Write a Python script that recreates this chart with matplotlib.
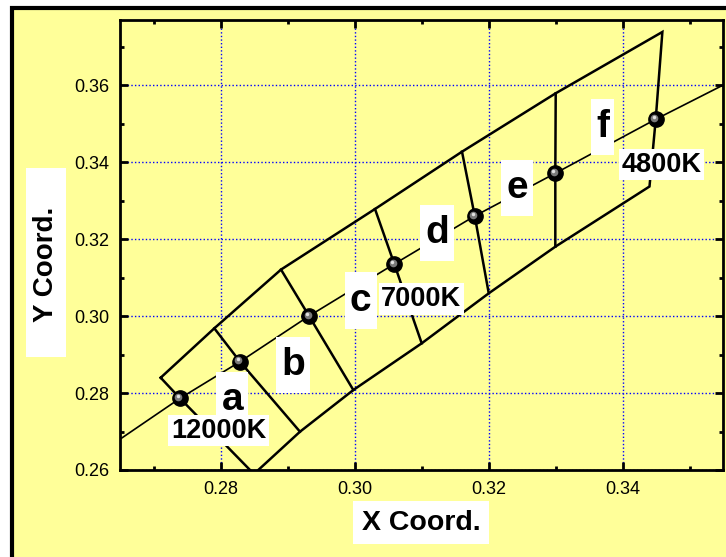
import matplotlib
matplotlib.use("Agg")
import matplotlib.pyplot as plt
from matplotlib.patches import Rectangle
from matplotlib.transforms import offset_copy
from matplotlib.ticker import MultipleLocator, FormatStrFormatter

plt.rcParams['font.family'] = ['Liberation Sans', 'DejaVu Sans']

# ---- data (CIE x, y) ----
locus_x = [0.2650, 0.27395, 0.28290, 0.29320, 0.30592, 0.31792, 0.32994, 0.34492, 0.3550]
locus_y = [0.2680, 0.27864, 0.28816, 0.30004, 0.31356, 0.32604, 0.33715, 0.35119, 0.3601]

point_x = [0.27395, 0.28290, 0.29320, 0.30592, 0.31792, 0.32994, 0.34492]
point_y = [0.27864, 0.28816, 0.30004, 0.31356, 0.32604, 0.33715, 0.35119]

upper_x = [0.27107, 0.27907, 0.28902, 0.30304, 0.31602, 0.33000, 0.34591]
upper_y = [0.28400, 0.29684, 0.31211, 0.32786, 0.34276, 0.35795, 0.37389]

lower_x = [0.28498, 0.29185, 0.29981, 0.31001, 0.32001, 0.32994, 0.34399]
lower_y = [0.25896, 0.26996, 0.28080, 0.29294, 0.30594, 0.31806, 0.33371]

bin_labels = ['a', 'b', 'c', 'd', 'e', 'f']
bin_label_x = [0.28174, 0.29085, 0.30092, 0.31226, 0.32420, 0.33703]
bin_label_y = [0.27828, 0.28722, 0.30405, 0.32155, 0.33325, 0.34913]

cct_labels = ['12000K', '7000K', '4800K']
cct_label_x = [0.27974, 0.30995, 0.34581]
cct_label_y = [0.27027, 0.30447, 0.33943]

x_ticks = [0.28, 0.30, 0.32, 0.34]
y_ticks = [0.26, 0.28, 0.30, 0.32, 0.34, 0.36]

YELLOW = '#FFFF99'
W, H = 726, 557
fig = plt.figure(figsize=(W / 100, H / 100), dpi=100, facecolor='white')

# outer yellow frame with black border
fig.patches.append(Rectangle((12 / W, -0.1), 1.2, 1.1 - 8 / H,
                             transform=fig.transFigure, facecolor=YELLOW,
                             edgecolor='black', linewidth=3.0, zorder=-5))

ax = fig.add_axes([120 / W, (H - 470) / H, 603.3 / W, 450 / H])
ax.set_facecolor(YELLOW)
ax.set_xlim(0.265, 0.355)
ax.set_ylim(0.26, 0.377)

ax.set_xticks(x_ticks)
ax.set_yticks(y_ticks)
ax.xaxis.set_minor_locator(MultipleLocator(0.01))
ax.yaxis.set_minor_locator(MultipleLocator(0.01))
ax.xaxis.set_major_formatter(FormatStrFormatter('%.2f'))
ax.yaxis.set_major_formatter(FormatStrFormatter('%.2f'))
ax.tick_params(which='both', direction='in', top=True, right=True, width=2.0)
ax.tick_params(which='major', length=6, labelsize=13, pad=8)
ax.tick_params(which='minor', length=3)
for s in ax.spines.values():
    s.set_linewidth(2.0)
ax.grid(True, which='major', color='#0000FF', linestyle=(0, (1, 1.6)), linewidth=1.0)
ax.set_axisbelow(True)

# outline of the bins
outline_x = upper_x + [point_x[-1]] + lower_x[::-1] + [point_x[0], upper_x[0]]
outline_y = upper_y + [point_y[-1]] + lower_y[::-1] + [point_y[0], upper_y[0]]
ax.plot(outline_x, outline_y, color='black', lw=1.8, solid_joinstyle='miter', zorder=3)

# dividers between bins
for i in range(1, 6):
    ax.plot([upper_x[i], point_x[i], lower_x[i]],
            [upper_y[i], point_y[i], lower_y[i]], color='black', lw=1.8, zorder=3)

# Planckian locus
ax.plot(locus_x, locus_y, color='black', lw=1.2, zorder=3)

# sphere-like points
ax.plot(point_x, point_y, 'o', color='black', ms=11, zorder=5)
t1 = offset_copy(ax.transData, fig=fig, x=-1.5, y=1.5, units='dots')
ax.plot(point_x, point_y, 'o', color='#7a7a7a', ms=5.5, mew=0, transform=t1, zorder=6)
t2 = offset_copy(ax.transData, fig=fig, x=-2.2, y=2.2, units='dots')
ax.plot(point_x, point_y, 'o', color='#e0e0e0', ms=2.5, mew=0, transform=t2, zorder=7)

# bin letters
for lab, lx, ly in zip(bin_labels, bin_label_x, bin_label_y):
    ax.text(lx, ly, lab, fontsize=28, fontweight='bold', ha='center', va='center',
            zorder=8,
            bbox=dict(boxstyle='square,pad=0.13', fc='white', ec='none',
                      mutation_aspect=2.0))

# CCT labels
for lab, lx, ly in zip(cct_labels, cct_label_x, cct_label_y):
    ax.text(lx, ly, lab, fontsize=19.5, fontweight='bold', ha='center', va='center',
            zorder=9,
            bbox=dict(boxstyle='square,pad=0.1', fc='white', ec='none'))

# axis titles
fig.patches.append(Rectangle((26 / W, (H - 356.7) / H), 40 / W, 188.4 / H,
                             transform=fig.transFigure, facecolor='white',
                             edgecolor='none', zorder=1))
fig.text(46 / W, (H - 264) / H, 'Y Coord.', rotation=90, fontsize=20,
         fontweight='bold', ha='center', va='center', zorder=2)
fig.text(421 / W, (H - 522.8) / H, 'X Coord.', fontsize=20.5, fontweight='bold',
         ha='center', va='center', zorder=2,
         bbox=dict(boxstyle='square,pad=0.3', fc='white', ec='none'))

fig.savefig('out.png', dpi=100, facecolor='white')
